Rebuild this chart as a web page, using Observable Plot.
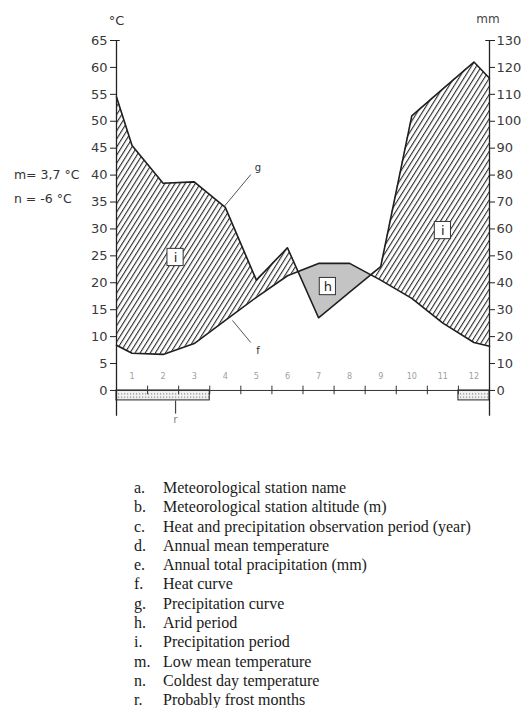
<!DOCTYPE html>
<html>
<head>
<meta charset="utf-8">
<script src="https://cdn.jsdelivr.net/npm/d3@7"></script>
<script src="https://cdn.jsdelivr.net/npm/@observablehq/plot@0.6"></script>
<style>
  html, body { margin: 0; padding: 0; background: #fff; }
  #wrap { position: relative; width: 521px; height: 708px; overflow: hidden; }
  #chart { position: absolute; left: 0; top: 0; }
  #legend { position: absolute; left: 134px; top: 478px; font-family: "Liberation Serif", "DejaVu Serif", serif; font-size: 16px; line-height: 19.3px; color: #1a1a1a; }
  #legend .row { white-space: nowrap; }
  #legend .k { display: inline-block; width: 29px; }
</style>
</head>
<body>
<div id="wrap">
  <div id="chart"></div>
  <div id="legend"></div>
</div>
<script>
// ---- data ----
const months = [1, 2, 3, 4, 5, 6, 7, 8, 9, 10, 11, 12];
const monthLabels = ["1", "2", "3", "4", "5", "6", "7", "8", "9", "10", "11", "12"];
const temperature = [6.9, 6.7, 8.7, 13.0, 17.3, 21.3, 23.6, 23.6, 20.5, 17.1, 12.5, 8.9]; // °C
const precipitation = [91, 77, 77.5, 68, 41, 53, 27, 36.5, 46, 102, 112, 122];        // mm
const edgeTemperature = [8.4, 8.2];     // curve ends at the chart edges
const edgePrecipitation = [109, 116];
const tempTicks = [0, 5, 10, 15, 20, 25, 30, 35, 40, 45, 50, 55, 60, 65];
const frostMonths = [{from: 0.5, to: 3.5}, {from: 11.5, to: 12.5}];
const periodLabels = [
  {label: "i", month: 2.4, value: 24.7},
  {label: "i", month: 11.0, value: 29.7},
  {label: "h", month: 7.3, value: 19.3}
];
const curveLabels = [
  {label: "g", month: 5.05, value: 41.3, fromMonth: 3.97, fromValue: 34.2, toMonth: 4.82, toValue: 40.1},
  {label: "f", month: 5.05, value: 7.3, fromMonth: 4.23, fromValue: 13.0, toMonth: 4.82, toValue: 8.9}
];
const legendKeys = ["a.", "b.", "c.", "d.", "e.", "f.", "g.", "h.", "i.", "m.", "n.", "r."];
const legendTexts = [
  "Meteorological station name",
  "Meteorological station altitude (m)",
  "Heat and precipitation observation period (year)",
  "Annual mean temperature",
  "Annual total pracipitation (mm)",
  "Heat curve",
  "Precipitation curve",
  "Arid period",
  "Precipitation period",
  "Low mean temperature",
  "Coldest day temperature",
  "Probably frost months"
];

// ---- build series (precipitation drawn on the °C scale, 2 mm = 1 °C) ----
const pts = [
  {x: 0.5, t: edgeTemperature[0], p: edgePrecipitation[0] / 2},
  ...months.map((m, i) => ({x: m, t: temperature[i], p: precipitation[i] / 2})),
  {x: 12.5, t: edgeTemperature[1], p: edgePrecipitation[1] / 2}
];
const seg = [];
for (let i = 0; i < pts.length; i++) {
  const a = pts[i];
  seg.push(a);
  if (i < pts.length - 1) {
    const b = pts[i + 1];
    const d0 = a.p - a.t, d1 = b.p - b.t;
    if (d0 * d1 < 0) {
      const f = d0 / (d0 - d1);
      const v = a.t + f * (b.t - a.t);
      seg.push({x: a.x + f * (b.x - a.x), t: v, p: v});
    }
  }
}
const frostDepth = -1.85;
const boxW = 0.26, boxH = 1.6;

const chart = Plot.plot({
  width: 521,
  height: 440,
  marginLeft: 116,
  marginRight: 32,
  marginTop: 40,
  marginBottom: 24.2,
  style: {fontFamily: "DejaVu Sans, Verdana, sans-serif", fontSize: "13px", color: "#2a2a2a", background: "#fff"},
  x: {domain: [0.5, 12.5], axis: null},
  y: {domain: [-4.8, 65], axis: null},
  marks: [
    Plot.areaY(seg, {x: "x", y1: "t", y2: d => Math.max(d.p, d.t), fill: "url(#hatch)"}),
    Plot.areaY(seg, {x: "x", y1: "p", y2: d => Math.max(d.p, d.t), fill: "#c4c4c4"}),
    Plot.line(pts, {x: "x", y: "p", stroke: "#1e1e1e", strokeWidth: 1.6}),
    Plot.line(pts, {x: "x", y: "t", stroke: "#1e1e1e", strokeWidth: 1.6}),
    // frost bars
    Plot.rect(frostMonths, {x1: "from", x2: "to", y1: 0, y2: frostDepth, fill: "url(#dots)", stroke: "#222", strokeWidth: 1}),
    // axis lines
    Plot.ruleX([0.5, 12.5], {y1: -4.8, y2: 65, stroke: "#222", strokeWidth: 1.3}),
    Plot.ruleY([0], {x1: 0.5, x2: 12.5, stroke: "#333", strokeWidth: 1}),
    Plot.ruleX(months.slice(0, 11).map(m => m + 0.5), {y1: -0.8, y2: 0.8, stroke: "#333", strokeWidth: 1}),
    // top caps of the axes
    Plot.ruleY([65], {x1: 0.5, x2: 0.62, stroke: "#222"}),
    Plot.ruleY([65], {x1: 12.38, x2: 12.5, stroke: "#222"}),
    // y axes
    Plot.axisY({anchor: "left", ticks: tempTicks, tickSize: 6, tickPadding: 3, fontSize: 13, fill: "#3a3a3a", stroke: "#222"}),
    Plot.axisY({anchor: "right", ticks: tempTicks, tickSize: 5, tickPadding: 2, fontSize: 13, fill: "#3a3a3a", stroke: "#222", tickFormat: d => String(d * 2)}),
    // month labels
    Plot.text(months, {x: d => d, y: 2.6, text: (d, i) => monthLabels[i], fill: "#a0a0a0", fontSize: 9, fontFamily: "DejaVu Sans Condensed, DejaVu Sans, sans-serif"}),
    // period label boxes
    Plot.rect(periodLabels, {x1: d => d.month - boxW, x2: d => d.month + boxW, y1: d => d.value - boxH, y2: d => d.value + boxH, fill: "#fff", stroke: "#333", strokeWidth: 1}),
    Plot.text(periodLabels, {x: "month", y: "value", text: "label", fontSize: 13, fill: "#222"}),
    // curve leader lines
    Plot.link(curveLabels, {x1: "fromMonth", y1: "fromValue", x2: "toMonth", y2: "toValue", stroke: "#555", strokeWidth: 1}),
    Plot.text(curveLabels, {x: "month", y: "value", text: "label", fontSize: 10, fill: "#333"}),
    // frost leader
    Plot.link([{m: 2.4}], {x1: "m", x2: "m", y1: frostDepth, y2: -4.3, stroke: "#444", strokeWidth: 1.2}),
    Plot.text(["r"], {x: 2.4, y: -5.4, text: d => d, fontSize: 11, fill: "#888"}),
    // unit labels
    Plot.text(["°C"], {x: 0.5, y: 68.7, text: d => d, fontSize: 13, fill: "#333"}),
    Plot.text(["mm"], {x: 12.45, y: 69.0, text: d => d, fontSize: 12, fill: "#444"}),
    // m and n values
    Plot.text(["m= 3,7 °C", "n = -6 °C"], {x: -2.8, y: (d, i) => i === 0 ? 40.0 : 35.5, text: d => d, textAnchor: "start", fontSize: 12.5, fill: "#333"})
  ]
});

d3.select(chart).insert("defs", ":first-child").html(`
  <pattern id="hatch" patternUnits="userSpaceOnUse" width="4.3" height="4.3" patternTransform="rotate(32)">
    <rect width="4.3" height="4.3" fill="#fff"/>
    <line x1="0" y1="0" x2="0" y2="4.3" stroke="#2b2b2b" stroke-width="2.2"/>
  </pattern>
  <pattern id="dots" patternUnits="userSpaceOnUse" width="3" height="3.5">
    <rect width="3" height="3.5" fill="#f1f1f1"/>
    <rect x="1" y="1.2" width="1.2" height="1.2" fill="#8a8a8a"/>
  </pattern>
`);

document.getElementById("chart").appendChild(chart);

const legend = d3.select("#legend");
legendKeys.forEach((k, i) => {
  const row = legend.append("div").attr("class", "row");
  row.append("span").attr("class", "k").text(k);
  row.append("span").text(legendTexts[i]);
});
</script>
</body>
</html>
